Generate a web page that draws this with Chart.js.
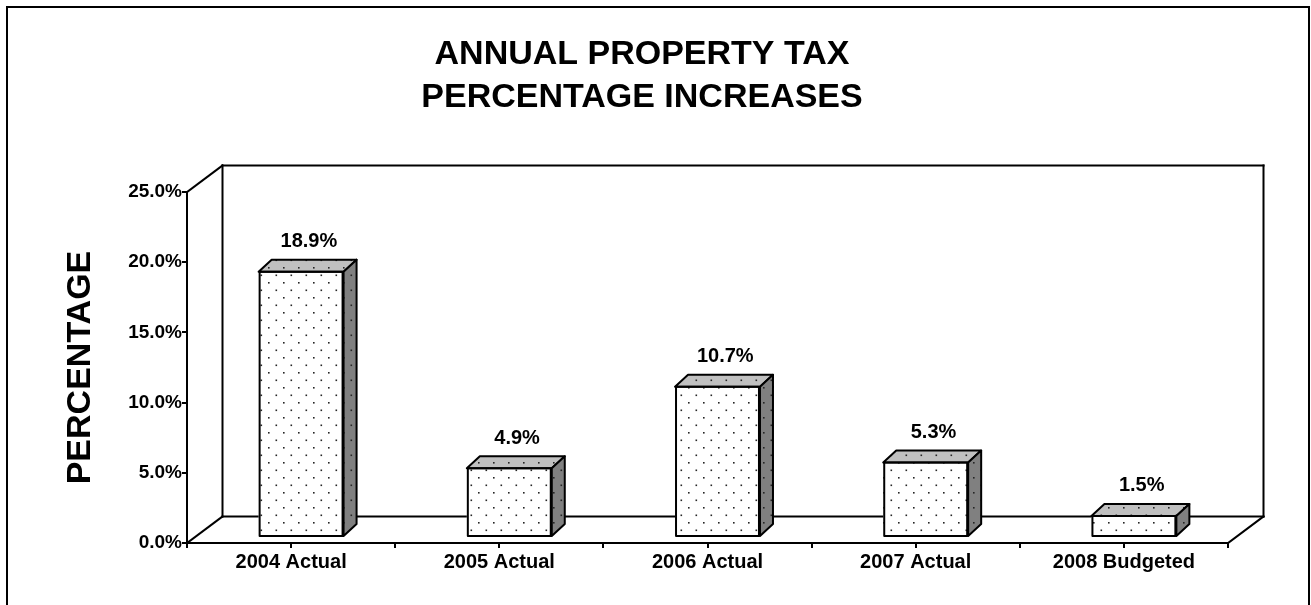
<!DOCTYPE html>
<html>
<head>
<meta charset="utf-8">
<script src="https://cdn.jsdelivr.net/npm/chart.js@4"></script>
<style>
  html, body { margin: 0; padding: 0; background: #fff; }
  canvas { display: block; }
</style>
</head>
<body>
<canvas id="chart" width="1311" height="605"></canvas>
<script>
const categories = ['2004 Actual', '2005 Actual', '2006 Actual', '2007 Actual', '2008 Budgeted'];
const increases = [18.9, 4.9, 10.7, 5.3, 1.5];
const yMin = 0;
const yMax = 25;
const yStep = 5;
const titleLines = ['ANNUAL PROPERTY TAX', 'PERCENTAGE INCREASES'];
const yTitle = 'PERCENTAGE';

const FONT = "'Liberation Sans', Arial, sans-serif";
const canvas = document.getElementById('chart');
const ctx = canvas.getContext('2d');

// depth of the "3D" box and of each bar
const WALL = { dx: 35.5, dy: -26.5 };
const BAR = { dx: 13, dy: -12, shiftX: 10, shiftY: -6 };

function dots(bg) {
  const c = document.createElement('canvas');
  c.width = 15; c.height = 15;
  const g = c.getContext('2d');
  g.fillStyle = bg; g.fillRect(0, 0, 15, 15);
  g.fillStyle = '#262626';
  g.fillRect(3, 3, 1.6, 1.6);
  g.fillRect(10.5, 10.5, 1.6, 1.6);
  return ctx.createPattern(c, 'repeat');
}
const frontFill = dots('#ffffff');
const topFill = dots('#c0c0c0');
const sideFill = dots('#808080');

function line(c, x1, y1, x2, y2) {
  c.beginPath(); c.moveTo(x1, y1); c.lineTo(x2, y2); c.stroke();
}

const box3d = {
  id: 'box3d',
  beforeDraw(chart) {
    const c = chart.ctx;
    c.save();
    c.strokeStyle = '#000'; c.lineWidth = 2;
    c.strokeRect(7, 7, 1302, 700);
    c.restore();
  },
  beforeDatasetsDraw(chart) {
    const c = chart.ctx;
    const { left: L, right: R, top: T, bottom: B } = chart.chartArea;
    const { dx, dy } = WALL;
    c.save();
    c.strokeStyle = '#000'; c.lineWidth = 2; c.lineCap = 'square';
    line(c, L, T, L + dx, T + dy);
    line(c, L + dx, T + dy, R + dx, T + dy);
    line(c, L + dx, T + dy, L + dx, B + dy);
    line(c, R + dx, T + dy, R + dx, B + dy);
    line(c, L + dx, B + dy, R + dx, B + dy);
    line(c, L, B, L + dx, B + dy);
    line(c, R, B, R + dx, B + dy);
    // bars sit a little behind the front plane
    c.translate(BAR.shiftX, BAR.shiftY);
  },
  afterDatasetsDraw(chart) {
    const c = chart.ctx;
    const meta = chart.getDatasetMeta(0);
    const { dx, dy } = BAR;
    c.lineWidth = 2; c.strokeStyle = '#000'; c.lineJoin = 'round';
    meta.data.forEach((bar, i) => {
      const { x, y, base, width } = bar.getProps(['x', 'y', 'base', 'width'], true);
      const l = x - width / 2, r = x + width / 2;
      c.beginPath();
      c.moveTo(l, y); c.lineTo(l + dx, y + dy); c.lineTo(r + dx, y + dy); c.lineTo(r, y); c.closePath();
      c.fillStyle = topFill; c.fill(); c.stroke();
      c.beginPath();
      c.moveTo(r, y); c.lineTo(r + dx, y + dy); c.lineTo(r + dx, base + dy); c.lineTo(r, base); c.closePath();
      c.fillStyle = sideFill; c.fill(); c.stroke();
      c.strokeRect(l + 1, y, width - 2, base - y);
      c.fillStyle = '#000';
      c.font = 'bold 20px ' + FONT;
      c.textAlign = 'center'; c.textBaseline = 'middle';
      c.fillText(increases[i].toFixed(1) + '%', x + dx * 0.6, y + dy - 18);
    });
    c.restore();
  },
  afterDraw(chart) {
    // extra tick marks under each category centre
    const c = chart.ctx;
    const xs = chart.scales.x;
    const B = chart.chartArea.bottom;
    c.save();
    c.strokeStyle = '#000'; c.lineWidth = 2;
    categories.forEach((_, i) => {
      const px = Math.round(xs.getPixelForValue(i));
      line(c, px, B, px, B + 5);
    });
    c.restore();
  }
};

new Chart(ctx, {
  type: 'bar',
  data: {
    labels: categories,
    datasets: [{
      data: increases,
      backgroundColor: frontFill,
      borderColor: '#000',
      borderWidth: 0,
      categoryPercentage: 1,
      barPercentage: 0.408
    }]
  },
  options: {
    responsive: false,
    animation: false,
    events: [],
    layout: { padding: { left: 0, right: 27, top: 0, bottom: 0 } },
    plugins: {
      legend: { display: false },
      tooltip: { enabled: false },
      title: {
        display: true,
        text: titleLines,
        color: '#000',
        font: { family: FONT, size: 34, weight: 'bold', lineHeight: 1.265 },
        padding: { top: 33, bottom: 73 }
      }
    },
    scales: {
      x: {
        offset: true,
        grid: { offset: true, drawOnChartArea: false, drawTicks: true, tickLength: 5, color: '#000', lineWidth: 2 },
        border: { display: true, color: '#000', width: 2 },
        ticks: { color: '#000', padding: 2, maxRotation: 0, font: { family: FONT, size: 20, weight: 'bold' } },
        afterFit: (s) => { s.height = 62; }
      },
      y: {
        min: yMin,
        max: yMax,
        grid: { drawOnChartArea: false, drawTicks: true, tickLength: 5, color: '#000', lineWidth: 2 },
        border: { display: true, color: '#000', width: 2 },
        ticks: {
          stepSize: yStep,
          color: '#000',
          padding: 0,
          font: { family: FONT, size: 19, weight: 'bold' },
          callback: (v) => Number(v).toFixed(1) + '%'
        },
        title: {
          display: true,
          text: yTitle,
          color: '#000',
          font: { family: FONT, size: 34, weight: 'bold' },
          padding: { top: 60, bottom: 0 }
        },
        afterFit: (s) => { s.width = 187; }
      },
      // empty right-hand box: room for the depth of the 3D wall
      depth: {
        type: 'linear',
        position: 'right',
        grid: { display: false },
        border: { display: false },
        ticks: { display: false },
        afterFit: (s) => { s.width = 56; }
      }
    }
  },
  plugins: [box3d]
});
</script>
</body>
</html>
